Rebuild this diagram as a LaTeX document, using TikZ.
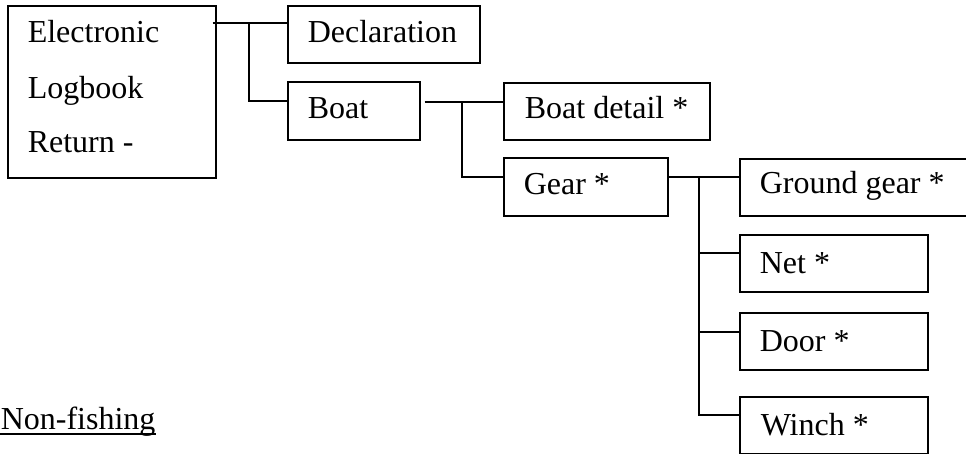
\documentclass[tikz,border=0pt]{standalone}
\usepackage{fontspec}
\setmainfont{Liberation Serif}
\usetikzlibrary{calc}
\begin{document}
\begin{tikzpicture}[x=1pt,y=-1pt,line width=1.6pt,
  box/.style={draw,anchor=north west,inner sep=0pt},
  lbl/.style={anchor=base west,inner sep=0pt,font=\fontsize{32}{38}\selectfont},
  link/.style={draw,line width=1.6pt}]
\useasboundingbox (0,0) rectangle (966,454);
\clip (0,0) rectangle (966,454);
% boxes
\node[box,minimum width=208pt,minimum height=172pt] (elb) at (7,5) {};
\node[box,minimum width=192pt,minimum height=57pt] (decl) at (287,5) {};
\node[box,minimum width=132pt,minimum height=58pt] (boat) at (287,81) {};
\node[box,minimum width=206pt,minimum height=57pt] (bd) at (503,82) {};
\node[box,minimum width=164pt,minimum height=58pt] (gear) at (503,157) {};
\node[box,minimum width=250pt,minimum height=57pt] (gg) at (739,158) {};
\node[box,minimum width=188pt,minimum height=57pt] (net) at (739,234) {};
\node[box,minimum width=188pt,minimum height=57pt] (door) at (739,312) {};
\node[box,minimum width=188pt,minimum height=57pt] (winch) at (739,396) {};
% texts
\node[lbl] (t1) at (27,43) {Electronic};
\node[lbl] (t2) at (27,99) {Logbook};
\node[lbl] (t3) at (27,153) {Return -};
\node[lbl] (tdecl) at (307,43) {Declaration};
\node[lbl] (tboat) at (307,119) {Boat};
\node[lbl] (tbd) at (524,119) {Boat detail *};
\node[lbl] (tgear) at (523,195) {Gear *};
\node[lbl] (tgg) at (759,194) {Ground gear *};
\node[lbl] (tnet) at (759,273) {Net *};
\node[lbl] (tdoor) at (759,351) {Door *};
\node[lbl] (twinch) at (760,435) {Winch *};
\node[lbl] (tnf) at (0,429) {Non-fishing};
\draw[line width=1.6pt] ($(tnf.base west)+(0,5)$) -- ($(tnf.base east)+(0,5)$);
% connectors
\coordinate (j1) at (249,23);
\coordinate (j2) at (462,102);
\coordinate (j3) at (699,177);
\draw[link] ($(elb.north east)+(-4,18)$) -- ($(decl.north west)+(0,18)$);
\draw[link] (j1) |- ($(boat.north west)+(0,20)$);
\draw[link] ($(boat.north east)+(4,21)$) -- ($(bd.north west)+(0,20)$);
\draw[link] (j2) |- ($(gear.north west)+(0,20)$);
\draw[link] ($(gear.north east)+(0,20)$) -- ($(gg.north west)+(0,19)$);
\draw[link] (j3) |- ($(winch.north west)+(0,19)$);
\draw[link] (j3 |- net.north west) ++(0,19) -- ($(net.north west)+(0,19)$);
\draw[link] (j3 |- door.north west) ++(0,20) -- ($(door.north west)+(0,20)$);
\end{tikzpicture}
\end{document}
